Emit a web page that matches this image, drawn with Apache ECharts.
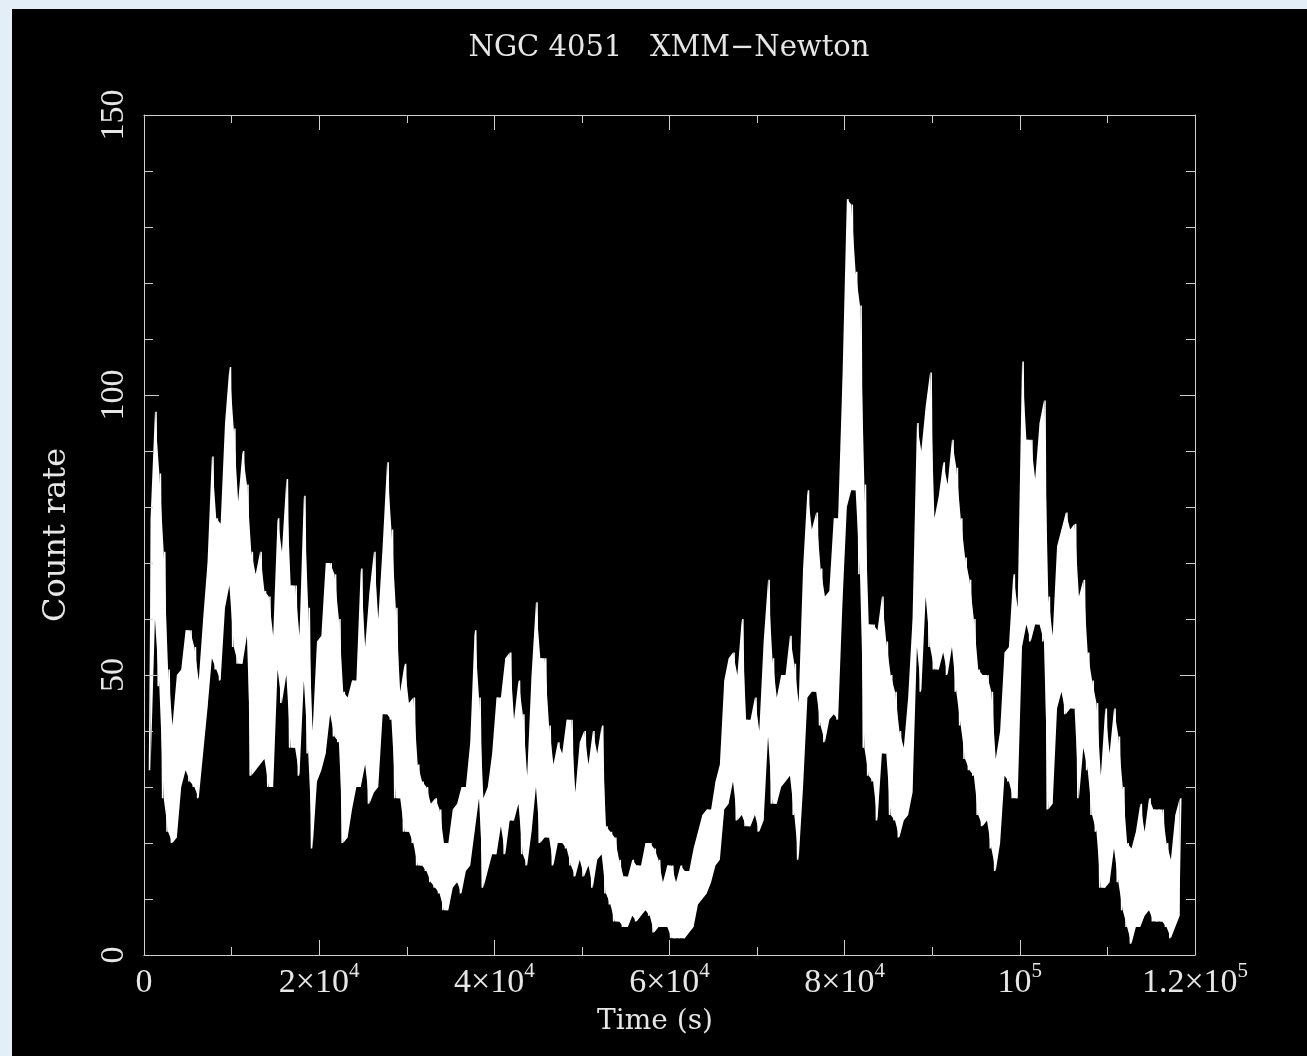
<!DOCTYPE html>
<html>
<head>
<meta charset="utf-8">
<title>NGC 4051 XMM-Newton</title>
<script src="https://cdn.jsdelivr.net/npm/echarts@6/dist/echarts.min.js"></script>
<style>
	body{
		margin: 0px;
		background: #e4eef6;
	}
	#chart{
		position: absolute;
		left: 12px;
		top: 9px;
		width: 1295px;
		height: 1047px;
		background: #000;
	}
</style>
</head>
<body>
<div id="chart"></div>
<script>
	// light curve in 500 s bins: lowest and highest count rate in each bin
	var binStart = 500;
	var binSize = 500;
	var lowRate = [
		33,60,48,28,22, 20,21,30,33,31, 30,28,36,44,53, 51,49,62,66,55, 52,52,57,32,33, 34,35,30,30,51, 45,50,37,37,32, 49,36,19,31,
		33,36,43,39,38, 20,21,26,30,30, 34,27,29,30,43, 43,42,28,28,22, 22,20,16,16,15, 13,12,11,8,8, 12,13,11,15,16, 22,28,12,15,18,
		18,23,18,24,24, 27,18,16,22,30, 20,21,21,16,20, 20,19,16,14,17, 14,16,12,17,18, 11,9,6,6,5, 5,7,6,7,8, 7,4,5,5,5,
		3,3,3,3,4, 5,9,10,11,13, 16,17,26,27,31, 24,25,23,23,25, 22,24,39,27,27, 30,31,32,25,17, 30,46,47,47,41, 38,42,43,42,
		63,80,83,83,68, 37,32,31,24,36, 36,25,24,21,24, 25,29,55,47,64, 55,51,51,54,50, 55,47,41,35,33, 32,25,23,24,19, 15,20,32,31,28, 28,
		55,59,56,59,59, 56,26,27,44,47, 43,44,44,28,37, 33,25,22,12,12, 13,19,13,8,5, 2,5,5,7,8, 6,6,6,5,3, 5,7
	];
	var highRate = [
		78,97,86,72,51, 41,50,51,58,58, 55,49,60,70,89, 78,77,95,105,94, 81,90,84,72,68, 72,65,64,57,78, 72,85,66,66,57, 82,62,40,56,
		57,70,70,68,60, 47,46,49,49,69, 55,65,72,60,73, 88,76,62,47,52, 45,46,34,31,30, 27,28,26,20,20, 26,27,30,30,38, 58,46,28,30,36,
		46,46,53,54,42, 49,43,32,50,63, 53,53,41,34,38, 36,42,42,29,38, 40,34,40,36,41, 23,22,21,17,14, 14,17,16,16,20, 20,19,17,13,16,
		16,13,16,15,15, 19,22,25,26,26, 31,34,49,53,54, 50,60,42,42,46, 40,56,67,53,46, 50,50,57,52,45, 69,83,76,79,69, 64,65,78,78,
		103,135,134,122,116, 84,59,59,58,64, 56,50,47,40,37, 46,60,95,90,98, 104,78,82,88,84, 92,87,78,71,67, 60,51,50,50,47, 35,40,54,55,68, 62,
		106,92,92,85,95, 99,64,57,73,76, 79,76,77,64,67, 54,49,45,32,44, 36,44,39,30,20, 19,22,27,22,28, 26,26,26,20,17, 25,28
	];
	// tick labels of the time axis (sup = exponent)
	var xTickLabels = ['0', '2×10{sup|4}', '4×10{sup|4}', '6×10{sup|4}', '8×10{sup|4}', '10{sup|5}', '1.2×10{sup|5}'];

	// the curve jumps low -> high inside every bin, like the dense original
	var curve = [];
	for (var i = 0; i < lowRate.length; i++) {
		var t0 = binStart + i * binSize;
		curve.push([t0 + binSize * 0.25, lowRate[i]]);
		curve.push([t0 + binSize * 0.75, highRate[i]]);
	}

	// white band between the two envelopes, one polygon through the axes' scales
	function renderBand(params, api){
		var pts = [];
		var k;
		for (k = 0; k < highRate.length; k++) {
			pts.push(api.coord([binStart + (k + 0.5) * binSize, highRate[k]]));
		}
		for (k = lowRate.length - 1; k >= 0; k--) {
			pts.push(api.coord([binStart + (k + 0.5) * binSize, lowRate[k]]));
		}
		return {
			type: 'polygon',
			shape: {points: pts},
			style: {fill: '#fff', stroke: null}
		};
	}

	var axisColor = '#cfcfcf';
	var textColor = '#e6e6e6';
	var numFont = 'Liberation Serif';

	function xAxisDef(pos, withLabels){
		return {
			type: 'value',
			position: pos,
			z: 10,
			min: 0,
			max: 120000,
			interval: 20000,
			axisLine: {onZero: false, lineStyle: {color: axisColor, width: 1}},
			axisTick: {inside: true, length: 15, lineStyle: {color: axisColor}},
			minorTick: {show: true, splitNumber: 2, length: 8, lineStyle: {color: axisColor}},
			splitLine: {show: false},
			axisLabel: {
				show: withLabels,
				margin: 6,
				formatter: function(v){
					return xTickLabels[Math.round(v / 20000)];
				},
				color: textColor,
				fontFamily: numFont,
				fontSize: 34,
				lineHeight: 44,
				rich: {
					sup: {fontFamily: numFont, fontSize: 21, lineHeight: 20, verticalAlign: 'top', color: textColor}
				}
			}
		};
	}
	function yAxisDef(pos, withLabels){
		return {
			type: 'value',
			position: pos,
			z: 10,
			min: 0,
			max: 150,
			interval: 50,
			axisLine: {show: true, onZero: false, lineStyle: {color: axisColor, width: 1}},
			axisTick: {show: true, inside: true, length: 15, lineStyle: {color: axisColor}},
			minorTick: {show: true, splitNumber: 5, length: 9, lineStyle: {color: axisColor}},
			splitLine: {show: false},
			axisLabel: {
				show: withLabels,
				rotate: 90,
				margin: 13,
				color: textColor,
				fontFamily: numFont,
				fontSize: 34
			}
		};
	}

	var myChart = echarts.init(document.getElementById('chart'));
	var option = {
		animation: false,
		backgroundColor: '#000',
		grid: {
			left: 132,
			top: 106,
			right: 112,
			bottom: 101
		},
		xAxis: [xAxisDef('bottom', true), xAxisDef('top', false)],
		yAxis: [yAxisDef('left', true), yAxisDef('right', false)],
		graphic: [{
			type: 'text',
			x: 657,
			y: 39,
			style: {text: 'NGC 4051   XMM−Newton', fill: textColor, font: '29px "DejaVu Serif"', textAlign: 'center', textVerticalAlign: 'middle'}
		}, {
			type: 'text',
			x: 643,
			y: 1013,
			style: {text: 'Time (s)', fill: textColor, font: '28px "DejaVu Serif"', textAlign: 'center', textVerticalAlign: 'middle'}
		}, {
			type: 'text',
			x: 45,
			y: 526,
			rotation: Math.PI / 2,
			style: {text: 'Count rate', fill: textColor, font: '32px "DejaVu Serif"', textAlign: 'center', textVerticalAlign: 'middle'}
		}],
		series: [{
			name: 'band',
			type: 'custom',
			z: 2,
			silent: true,
			data: [0],
			renderItem: renderBand
		}, {
			name: 'Count rate',
			type: 'line',
			z: 3,
			data: curve,
			showSymbol: false,
			silent: true,
			lineStyle: {color: '#fff', width: 1.5}
		}]
	};
	myChart.setOption(option);
</script>
</body>
</html>
